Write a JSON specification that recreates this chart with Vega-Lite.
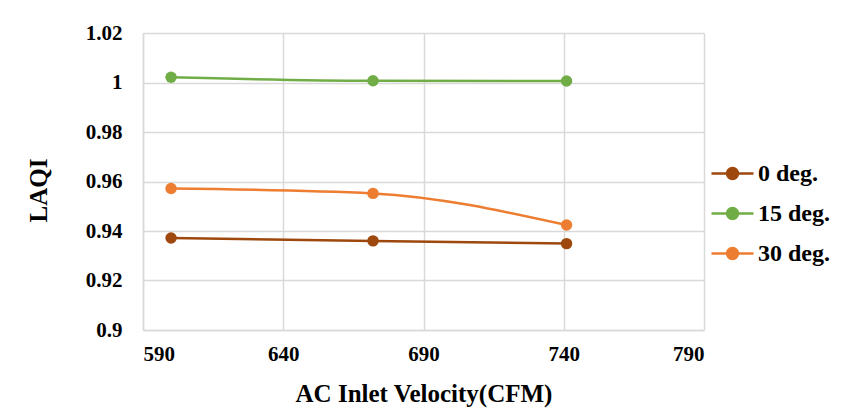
{
  "$schema": "https://vega.github.io/schema/vega-lite/v6.json",
  "width": 561,
  "height": 297,
  "autosize": {"type": "none"},
  "padding": {"left": 143, "top": 33, "right": 140, "bottom": 80},
  "background": "white",
  "config": {
    "font": "Liberation Serif",
    "view": {"stroke": null},
    "axis": {
      "labelFont": "Liberation Serif",
      "titleFont": "Liberation Serif",
      "labelFontWeight": "bold",
      "titleFontWeight": "bold",
      "labelColor": "#000000",
      "titleColor": "#000000",
      "gridColor": "#D9D9D9",
      "gridWidth": 1.5,
      "domainColor": "#D9D9D9",
      "domainWidth": 1.5,
      "ticks": false
    },
    "legend": {
      "labelFont": "Liberation Serif",
      "labelFontWeight": "bold",
      "labelColor": "#000000"
    }
  },
  "data": {
    "values": [
      {"velocity": 600, "laqi": 0.9372, "angle": "0 deg."},
      {"velocity": 672, "laqi": 0.9360, "angle": "0 deg."},
      {"velocity": 741, "laqi": 0.9349, "angle": "0 deg."},
      {"velocity": 600, "laqi": 1.0021, "angle": "15 deg."},
      {"velocity": 672, "laqi": 1.0007, "angle": "15 deg."},
      {"velocity": 741, "laqi": 1.0006, "angle": "15 deg."},
      {"velocity": 600, "laqi": 0.9572, "angle": "30 deg."},
      {"velocity": 672, "laqi": 0.9552, "angle": "30 deg."},
      {"velocity": 741, "laqi": 0.9424, "angle": "30 deg."}
    ]
  },
  "mark": {"type": "line", "interpolate": "monotone", "strokeWidth": 2.5, "point": {"size": 130, "filled": true, "opacity": 1}},
  "encoding": {
    "x": {
      "field": "velocity",
      "type": "quantitative",
      "scale": {"domain": [590, 790], "nice": false, "zero": false},
      "axis": {
        "values": [590, 640, 690, 740, 790],
        "labelFontSize": 21,
        "labelPadding": 13,
        "title": "AC Inlet Velocity(CFM)",
        "titleFontSize": 25,
        "titlePadding": 17
      }
    },
    "y": {
      "field": "laqi",
      "type": "quantitative",
      "scale": {"domain": [0.9, 1.02], "nice": false, "zero": false},
      "axis": {
        "values": [0.9, 0.92, 0.94, 0.96, 0.98, 1, 1.02],
        "format": ".2~f",
        "labelFontSize": 21,
        "labelPadding": 21,
        "title": "LAQI",
        "titleFontSize": 25,
        "titlePadding": 34,
        "titleY": 157
      }
    },
    "color": {
      "field": "angle",
      "type": "nominal",
      "scale": {"domain": ["0 deg.", "15 deg.", "30 deg."], "range": ["#9E480E", "#70AD47", "#ED7D31"]},
      "legend": {
        "title": null,
        "orient": "none",
        "legendX": 567,
        "legendY": 118,
        "labelFontSize": 24,
        "rowPadding": 5,
        "labelOffset": 3,
        "symbolType": "M-1,0L1,0M-0.26,0A0.26,0.26 0 1,1 0.26,0A0.26,0.26 0 1,1 -0.26,0Z",
        "symbolSize": 1764,
        "symbolStrokeWidth": 2.5,
        "encode": {"symbols": {"update": {"fill": {"scale": "color", "field": "value"}, "fillOpacity": {"value": 1}, "opacity": {"value": 1}}}}
      }
    }
  }
}
